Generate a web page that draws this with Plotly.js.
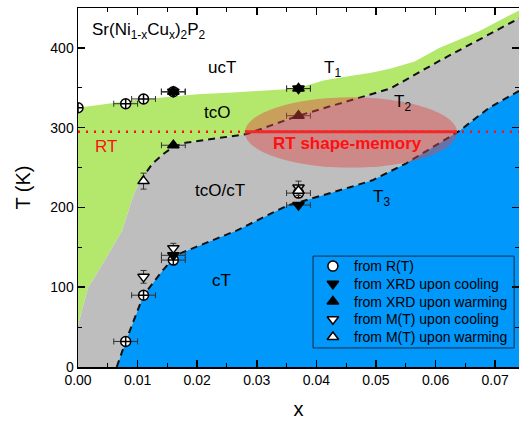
<!DOCTYPE html>
<html><head><meta charset="utf-8">
<script src="https://cdn.plot.ly/plotly-3.0.1.min.js"></script>
<style>html,body{margin:0;padding:0;background:#fff}#plot{width:519px;height:423px}</style>
</head><body><div id="plot"></div>
<script>
// axis ranges
const xRange = [0, 0.074];
const yRange = [0, 450];

// phase boundaries (x, T in K)
const xT1 = [0, 0.005, 0.010, 0.016, 0.020, 0.026, 0.0367, 0.0412, 0.044, 0.0494, 0.0523, 0.0565, 0.0606, 0.0673, 0.074];
const yT1 = [325, 330, 335, 339, 342, 344, 349, 359, 363, 369, 374, 383, 400, 421, 447];

const xT2 = [0, 0.0017, 0.0025, 0.005, 0.0074, 0.0092, 0.0104, 0.0125, 0.0145, 0.016, 0.018, 0.0283, 0.037, 0.0456, 0.0524, 0.0607, 0.074];
const yT2 = [52, 100, 109, 140, 171, 213, 233, 255, 268, 276, 281, 292, 315, 334, 349, 384, 437];
const t2DashStart = 0.0104;

const xT3 = [0.0065, 0.008, 0.011, 0.0142, 0.016, 0.017, 0.0266, 0.035, 0.0455, 0.0494, 0.055, 0.0606, 0.064, 0.069, 0.074];
const yT3 = [0, 32, 90, 121, 136, 142, 171, 202, 225, 234, 255, 280, 296, 325, 346];

// room temperature line and shape-memory ellipse
const RT = 295;
const rtSolidX = [0.028, 0.0636];
const ellipseX = [0.0280, 0.0636];
const ellipseY = [250, 338];

// data points
const rtX = [0.0, 0.008, 0.011, 0.016, 0.016, 0.011, 0.008, 0.037];
const rtY = [325, 330, 336, 345, 134, 90, 32, 218];
const rtXerr = [0, 0.002, 0.002, 0.002, 0.002, 0.002, 0.002, 0.002];

const xrdCoolX = [0.016, 0.016, 0.037, 0.037];
const xrdCoolY = [345, 140, 203, 349];
const xrdCoolXerr = [0.002, 0.002, 0.002, 0.002];

const xrdWarmX = [0.016, 0.016, 0.037, 0.037];
const xrdWarmY = [345, 278, 315, 349];
const xrdWarmXerr = [0.002, 0.002, 0.002, 0.002];

const mCoolX = [0.011, 0.016, 0.037];
const mCoolY = [113, 149, 225];
const mCoolYerr = [8, 6, 8];

const mWarmX = [0.011, 0.037];
const mWarmY = [233, 221];
const mWarmYerr = [10, 6];

// legend
const legendNames = ["from R(T)", "from XRD upon cooling", "from XRD upon warming", "from M(T) upon cooling", "from M(T) upon warming"];
const legendSymbols = ['circle', 'triangle-down', 'triangle-up', 'triangle-down', 'triangle-up'];
const legendFills = ['#fff', '#000', '#000', '#fff', '#fff'];

// legend layout (paper fractions)
const LEG = {x0: 0.533, x1: 0.989, y0: 0.053, y1: 0.309, rowTop: 0.281, rowStep: 0.0493, markerX: 0.578, textX: 0.622};

const GREEN = "#b4e86c", GRAY = "#bebebe", BLUE = "#0098fb";
const FONT = "Liberation Sans, Arial, sans-serif";

const rev = a => a.slice().reverse();

const traces = [];
// green region (between T1 and T2)
traces.push({x: xT1.concat(rev(xT2)), y: yT1.concat(rev(yT2)), mode: 'none', fill: 'toself', fillcolor: GREEN, hoverinfo: 'skip', showlegend: false});
// gray region (between T2 and T3)
traces.push({x: xT2.concat(rev(xT3), [xRange[0]]), y: yT2.concat(rev(yT3), [yRange[0]]), mode: 'none', fill: 'toself', fillcolor: GRAY, hoverinfo: 'skip', showlegend: false});
// blue region (below T3)
traces.push({x: xT3.concat([xRange[1]]), y: yT3.concat([yRange[0]]), mode: 'none', fill: 'toself', fillcolor: BLUE, hoverinfo: 'skip', showlegend: false});

// dashed boundaries
const i2 = xT2.findIndex(v => v >= t2DashStart);
traces.push({x: xT2.slice(i2), y: yT2.slice(i2), mode: 'lines', line: {color: '#111', width: 2, dash: '7px,5px'}, hoverinfo: 'skip', showlegend: false});
traces.push({x: xT3, y: yT3, mode: 'lines', line: {color: '#111', width: 2, dash: '7px,5px'}, hoverinfo: 'skip', showlegend: false});

// RT lines
traces.push({x: xRange, y: [RT, RT], mode: 'lines', line: {color: '#ff1010', width: 2.5, dash: '2px,6px'}, hoverinfo: 'skip', showlegend: false});
traces.push({x: rtSolidX, y: [RT, RT], mode: 'lines', line: {color: '#ff1010', width: 3}, hoverinfo: 'skip', showlegend: false});

const errStyle = {color: '#333', thickness: 1, width: 3};
const mk = (sym, fill) => ({symbol: sym, size: 10, color: fill, line: {color: '#000', width: 1.5}});

traces.push({x: rtX, y: rtY, mode: 'markers', marker: mk('circle-cross', '#fff'), error_x: Object.assign({type: 'data', array: rtXerr}, errStyle), showlegend: false});
traces.push({x: mCoolX, y: mCoolY, mode: 'markers', marker: mk('triangle-down', '#fff'), error_y: Object.assign({type: 'data', array: mCoolYerr}, errStyle), showlegend: false});
traces.push({x: mWarmX, y: mWarmY, mode: 'markers', marker: mk('triangle-up', '#fff'), error_y: Object.assign({type: 'data', array: mWarmYerr}, errStyle), showlegend: false});
traces.push({x: xrdCoolX, y: xrdCoolY, mode: 'markers', marker: mk('triangle-down', '#000'), error_x: Object.assign({type: 'data', array: xrdCoolXerr}, errStyle), showlegend: false});
traces.push({x: xrdWarmX, y: xrdWarmY, mode: 'markers', marker: mk('triangle-up', '#000'), error_x: Object.assign({type: 'data', array: xrdWarmXerr}, errStyle), showlegend: false});

// legend symbols on a helper overlay axis (0..1 spans the plot area)
const legRowY = legendNames.map((n, i) => LEG.rowTop - i * LEG.rowStep);
traces.push({x: legendNames.map(() => LEG.markerX), y: legRowY, xaxis: 'x2', yaxis: 'y2', mode: 'markers',
  marker: {symbol: legendSymbols, size: 10, color: legendFills, line: {color: '#000', width: 1.5}}, hoverinfo: 'skip', showlegend: false, cliponaxis: false});

const ann = (text, x, y, opts) => Object.assign({text: text, x: x, y: y, xref: 'x', yref: 'y', showarrow: false, font: {family: FONT, size: 17, color: '#000'}}, opts || {});

const annotations = [
  ann('Sr(Ni<sub>1-x</sub>Cu<sub>x</sub>)<sub>2</sub>P<sub>2</sub>', 0.002, 421, {xanchor: 'left'}),
  ann('ucT', 0.0241, 375),
  ann('T<sub>1</sub>', 0.0410, 373, {xanchor: 'left'}),
  ann('tcO', 0.0234, 319),
  ann('T<sub>2</sub>', 0.0527, 331, {xanchor: 'left'}),
  ann('RT', 0.0047, 276, {font: {family: FONT, size: 17, color: '#ff1010'}}),
  ann('<b>RT shape-memory</b>', 0.0452, 280, {font: {family: FONT, size: 17, color: '#ff1010'}}),
  ann('tcO/cT', 0.0238, 221),
  ann('T<sub>3</sub>', 0.0492, 212, {xanchor: 'left'}),
  ann('cT', 0.0241, 109)
];
legendNames.forEach((n, i) => {
  annotations.push({text: n, x: LEG.textX, y: legRowY[i], xref: 'paper', yref: 'paper', xanchor: 'left', yanchor: 'middle',
    showarrow: false, font: {family: FONT, size: 14, color: '#000'}});
});

const layout = {
  width: 519, height: 423,
  margin: {l: 78, r: 0, t: 8, b: 56},
  paper_bgcolor: '#fff', plot_bgcolor: '#fff',
  font: {family: FONT, size: 14, color: '#000'},
  showlegend: false,
  xaxis: {range: xRange, dtick: 0.01, tick0: 0, tickformat: '.2f', ticks: 'inside', ticklen: 7, tickwidth: 1.5, tickcolor: '#000',
          showline: true, linecolor: '#000', linewidth: 1.5, mirror: 'ticks', showgrid: false, zeroline: false,
          minor: {dtick: 0.005, ticks: 'inside', ticklen: 4, tickwidth: 1, tickcolor: '#000', showgrid: false},
          tickfont: {size: 14}, title: {text: 'x', font: {size: 20}, standoff: 14}},
  yaxis: {range: yRange, dtick: 100, tick0: 0, ticks: 'inside', ticklen: 7, tickwidth: 1.5, tickcolor: '#000',
          showline: true, linecolor: '#000', linewidth: 1.5, mirror: 'ticks', showgrid: false, zeroline: false,
          minor: {dtick: 50, ticks: 'inside', ticklen: 4, tickwidth: 1, tickcolor: '#000', showgrid: false},
          tickfont: {size: 14}, title: {text: 'T (K)', font: {size: 20}, standoff: 14}},
  xaxis2: {overlaying: 'x', range: [0, 1], visible: false, showgrid: false, zeroline: false},
  yaxis2: {overlaying: 'y', range: [0, 1], visible: false, showgrid: false, zeroline: false},
  shapes: [
    {type: 'circle', xref: 'x', yref: 'y', x0: ellipseX[0], x1: ellipseX[1], y0: ellipseY[0], y1: ellipseY[1],
     fillcolor: 'rgba(225,70,70,0.45)', line: {width: 0}, layer: 'above'},
    {type: 'rect', xref: 'paper', yref: 'paper', x0: LEG.x0, x1: LEG.x1, y0: LEG.y0, y1: LEG.y1,
     line: {color: '#1a2a40', width: 1}, fillcolor: 'rgba(0,0,0,0)', layer: 'above'}
  ],
  annotations: annotations
};

Plotly.newPlot('plot', traces, layout, {displayModeBar: false, staticPlot: true});
</script></body></html>
